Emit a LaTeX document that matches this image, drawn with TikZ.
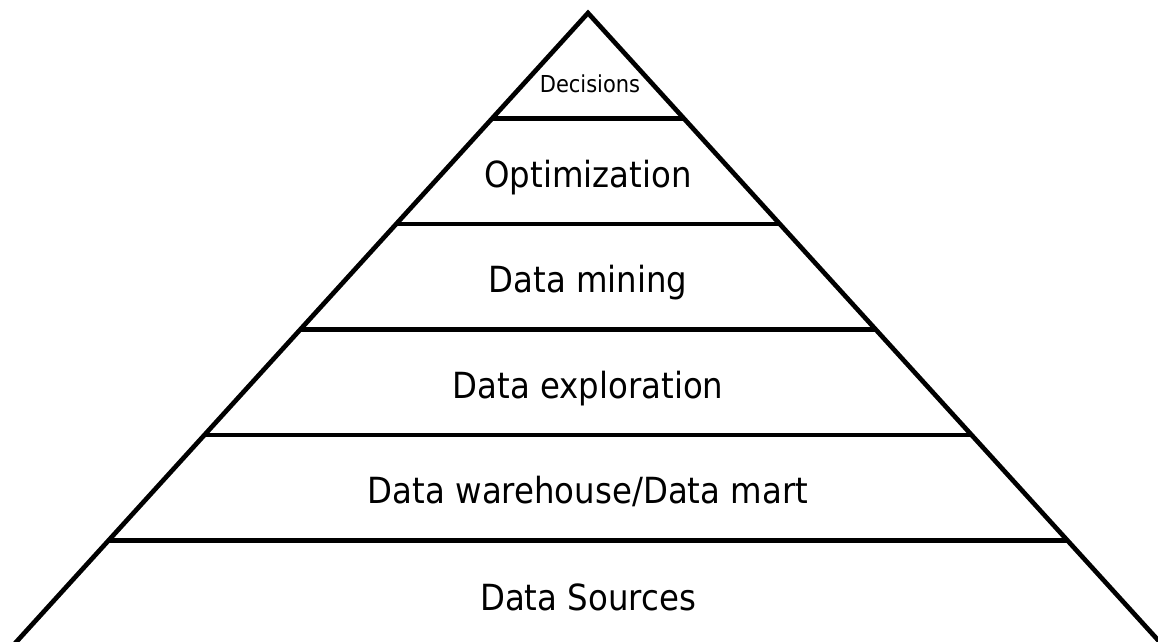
\documentclass[tikz,border=0pt]{standalone}
\usepackage{fontspec}
\setmainfont{DejaVu Sans}[FakeStretch=0.9]
\begin{document}
\begin{tikzpicture}[x=0.75pt,y=-0.75pt,
  edge/.style={line width=3.5pt,line join=miter,line cap=butt},
  tier/.style={anchor=base,inner sep=0pt,font=\fontsize{27}{31}\selectfont},
  tiptier/.style={anchor=base,inner sep=0pt,font=\fontsize{17.5}{21}\selectfont}]
\useasboundingbox (0,0) rectangle (1158,642);
\clip (0,0) rectangle (1158,642);
% apex and the two sloping sides
\coordinate (apex) at (588,13);
\coordinate (bl) at ({588-0.909*660},673);
\coordinate (br) at ({588+0.909*660},673);
\draw[edge] (bl) -- (apex) -- (br);
% tier dividers, each spanning the sides at its height
\foreach \k in {1,...,5}{
  \pgfmathsetmacro{\yy}{13+105.5*\k}
  \pgfmathsetmacro{\hw}{0.909*105.5*\k}
  \coordinate (l\k) at ({588-\hw},\yy);
  \coordinate (r\k) at ({588+\hw},\yy);
  \draw[edge] (l\k) -- (r\k);
}
% tier labels
\node[tiptier] (t0) at (590,93) {Decisions};
\node[tier] (t1) at (588,187) {Optimization};
\node[tier] (t2) at (588,292.5) {Data mining};
\node[tier] (t3) at (588,398) {Data exploration};
\node[tier] (t4) at (588,503.5) {Data warehouse/Data mart};
\node[tier] (t5) at (588,610) {Data Sources};
\end{tikzpicture}
\end{document}
